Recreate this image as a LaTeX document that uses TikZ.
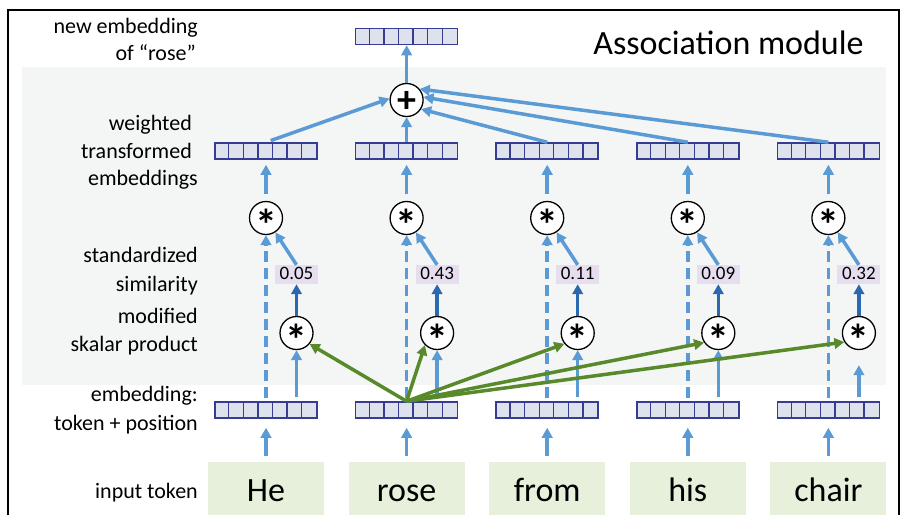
\documentclass[tikz,border=0pt]{standalone}
\usepackage{fontspec}
\setmainfont{Carlito}
\usetikzlibrary{arrows.meta,calc}

\definecolor{lblue}{HTML}{5B9BD5}
\definecolor{dblue}{HTML}{2A68B0}
\definecolor{grn}{HTML}{588A2C}
\definecolor{vecb}{HTML}{363C92}
\definecolor{vecf}{HTML}{DDE2EC}
\definecolor{tokf}{HTML}{E6F0DB}
\definecolor{valf}{HTML}{E6DDEF}
\definecolor{bgg}{HTML}{F4F5F5}

\newcommand{\vecnode}[3]{%
  \node[vec] (#1) at (#2,#3) {};
  \foreach \k in {1,...,6}
    \draw[draw=vecb, line width=1.3pt] ([xshift={\k*14.5714pt}]#1.south west) -- ([xshift={\k*14.5714pt}]#1.north west);
}
\newcommand{\starsym}{\raisebox{-22pt}[0pt][0pt]{\fontsize{44}{44}\selectfont\bfseries *}}
\newcommand{\plussym}{\raisebox{-12.7pt}[0pt][0pt]{\fontsize{38}{38}\selectfont\bfseries +}}

\begin{document}
\begin{tikzpicture}[x=1pt,y=-1pt,
  lab/.style={anchor=base east, font=\fontsize{22}{27}\selectfont, inner sep=0pt},
  vec/.style={draw=vecb, fill=vecf, line width=1.5pt, minimum width=102pt, minimum height=16pt, inner sep=0pt},
  op/.style={circle, draw=black, line width=1.3pt, fill=white, minimum size=33pt, inner sep=0pt},
  tok/.style={fill=tokf, minimum width=116pt, text height=39.5pt, text depth=13.5pt, inner xsep=0pt, inner ysep=0pt, anchor=base, font=\fontsize{34}{34}\selectfont},
  valbox/.style={fill=valf, minimum width=43pt, text height=14.3pt, text depth=4.7pt, inner xsep=0pt, inner ysep=0pt, anchor=base, font=\fontsize{19}{19}\selectfont},
  arr/.style={line width=3.5pt, -{Triangle[length=10pt,width=10.5pt]}},
  lb/.style={arr, color=lblue},
  db/.style={arr, color=dblue},
  ga/.style={arr, color=grn},
  dsh/.style={lb, dash pattern=on 11pt off 6pt}
]
\useasboundingbox (0,0) rectangle (904,515);
\fill[bgg] (22,67) rectangle (886,385);
\draw[line width=1.4pt] (8,515) -- (8,10) -- (899,10) -- (899,515);

% labels
\node[lab] (l1) at (198,33) {new embedding};
\node[lab] (l2) at (196,60) {of “rose”};
\node[lab] (l3) at (192,130.7) {weighted};
\node[lab] (l4) at (192,158.3) {transformed};
\node[lab] (l5) at (198,185) {embeddings};
\node[lab] (l6) at (198,262.7) {standardized};
\node[lab] (l7) at (198,291) {similarity};
\node[lab] (l8) at (198,323.3) {modified};
\node[lab] (l9) at (198,351) {skalar product};
\node[lab] (l10) at (198,401.7) {embedding:};
\node[lab] (l11) at (198,430) {token + position};
\node[lab] (l12) at (198,498.3) {input token};

\node[anchor=base, font=\fontsize{34}{34}\selectfont, inner sep=0pt] (title) at (728.5,54) {Association module};

% top part
\vecnode{top}{406.6}{36.5}
\node[op] (plus) at (406.6,100) {\plussym};

\foreach \i/\w/\v in {0/He/0.05, 1/rose/0.43, 2/from/0.11, 3/his/0.09, 4/chair/0.32} {
  \pgfmathsetmacro\cx{266+140.6*\i}
  \pgfmathsetmacro\sx{\cx+30.5}
  \node[tok] (tok\i) at (\cx,501.5) {\w};
  \vecnode{emb\i}{\cx}{410}
  \vecnode{wv\i}{\cx}{151}
  \node[op] (us\i) at (\cx,218) {\starsym};
  \node[op] (ls\i) at (\sx,333) {\starsym};
  \node[valbox] (val\i) at (\sx,279.3) {\v};
  \draw[lb, shorten <=6pt, shorten >=9pt] (tok\i.north) -- (emb\i.south);
  \draw[dsh, shorten <=3pt] (emb\i.north) -- (us\i.south);
  \draw[db] (ls\i.north) -- (val\i.south);
  \draw[lb] (val\i.north) -- (us\i);
  \draw[lb, shorten <=7pt, shorten >=5pt] (us\i.north) -- (wv\i.south);
}
\foreach \i in {0,1,2,3} {
  \draw[lb, shorten <=4pt] (ls\i.south |- emb\i.north) -- (ls\i.south);
}
\draw[lb, shorten <=4pt, shorten >=15pt] (ls4.south |- emb4.north) -- (ls4.south);

% to plus
\draw[lb, shorten <=5pt] (wv0.north) -- (plus.175);
\draw[lb] (wv1.north) -- (plus.south);
\draw[lb] (wv2.north) -- (plus.-32);
\draw[lb] (wv3.north) -- (plus.10);
\draw[lb] (wv4.north) -- (plus.40);
\draw[lb] (plus.north) -- (top.south);

% green
\draw[ga] (emb1.north) -- (ls0.-40);
\draw[ga] (emb1.north) -- (ls1.225);
\draw[ga] (emb1.north) -- (ls2.219);
\draw[ga] (emb1.north) -- (ls3.214);
\draw[ga] (emb1.north) -- (ls4.212);
\end{tikzpicture}
\end{document}
